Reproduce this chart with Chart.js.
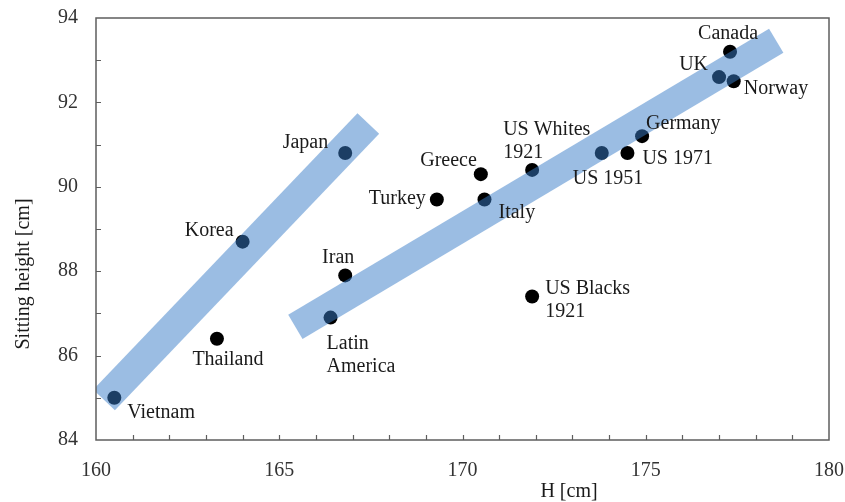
<!DOCTYPE html>
<html>
<head>
<meta charset="utf-8">
<script src="https://cdn.jsdelivr.net/npm/chart.js@4/dist/chart.umd.min.js"></script>
<style>
  html, body { margin: 0; padding: 0; background: #ffffff; }
  #wrap { width: 845px; height: 502px; }
</style>
</head>
<body>
<div id="wrap"><canvas id="c" width="845" height="502"></canvas></div>
<script>
// ---------- data ----------
const countries = ['Vietnam', 'Thailand', 'Korea', 'Japan', 'Iran', 'Latin\nAmerica', 'Turkey', 'Greece', 'Italy',
  'US Whites\n1921', 'US 1951', 'US 1971', 'Germany', 'UK', 'Norway', 'Canada', 'US Blacks\n1921'];
const statureH      = [160.5, 163.3, 164.0, 166.8, 166.8, 166.4, 169.3, 170.5, 170.6, 171.9, 173.8, 174.5, 174.9, 177.0, 177.4, 177.3, 171.9];
const sittingHeight = [85.0, 86.4, 88.7, 90.8, 87.9, 86.9, 89.7, 90.3, 89.7, 90.4, 90.8, 90.8, 91.2, 92.6, 92.5, 93.2, 87.4];

// trend bands (start / end of each band)
const asianBandX   = [160.22, 167.43];
const asianBandY   = [84.95, 91.50];
const westernBandX = [165.44, 178.56];
const westernBandY = [86.68, 93.46];

const xTickValues = [160, 165, 170, 175, 180];
const yTickValues = [84, 86, 88, 90, 92, 94];
const xTitle = 'H [cm]';
const yTitle = 'Sitting height [cm]';

// ---------- label placement (layout only) ----------
const labelPlacement = [
  { align: 'left',   dx: 13,  dy: 20 },  // Vietnam
  { align: 'center', dx: 11,  dy: 26 },  // Thailand
  { align: 'right',  dx: -9,  dy: -6 },  // Korea
  { align: 'right',  dx: -17, dy: -5 },  // Japan
  { align: 'center', dx: -7,  dy: -12 }, // Iran
  { align: 'left',   dx: -4,  dy: 31 },  // Latin America
  { align: 'right',  dx: -11, dy: 5 },   // Turkey
  { align: 'right',  dx: -4,  dy: -8 },  // Greece
  { align: 'left',   dx: 14,  dy: 19 },  // Italy
  { align: 'left',   dx: -29, dy: -35 }, // US Whites 1921
  { align: 'left',   dx: -29, dy: 31 },  // US 1951
  { align: 'left',   dx: 15,  dy: 11 },  // US 1971
  { align: 'left',   dx: 4,   dy: -7 },  // Germany
  { align: 'right',  dx: -11, dy: -7 },  // UK
  { align: 'left',   dx: 10,  dy: 13 },  // Norway
  { align: 'center', dx: -2,  dy: -13 }, // Canada
  { align: 'left',   dx: 13,  dy: -3 }   // US Blacks 1921
];

const SERIF = "'Liberation Serif', 'Times New Roman', serif";
const bandColor = 'rgba(56,124,200,0.5)';

const toXY = (xs, ys) => xs.map((v, i) => ({ x: v, y: ys[i] }));

const decor = {
  id: 'decor',
  afterDatasetsDraw(chart) {
    const { ctx, chartArea: a, scales: { x, y } } = chart;
    ctx.save();
    // frame
    ctx.strokeStyle = '#5e5e5e';
    ctx.lineWidth = 1.5;
    ctx.strokeRect(a.left, a.top, a.right - a.left, a.bottom - a.top);
    // inward minor ticks
    ctx.lineWidth = 1.2;
    ctx.beginPath();
    for (let v = x.min + 1; v < x.max; v++) {
      const px = Math.round(x.getPixelForValue(v)) + 0.5;
      ctx.moveTo(px, a.bottom);
      ctx.lineTo(px, a.bottom - 5);
    }
    for (let v = y.min + 1; v < y.max; v++) {
      const py = Math.round(y.getPixelForValue(v)) + 0.5;
      ctx.moveTo(a.left, py);
      ctx.lineTo(a.left + 5, py);
    }
    ctx.stroke();

    // point labels
    const meta = chart.getDatasetMeta(0);
    ctx.fillStyle = '#1a1a1a';
    ctx.font = '20px ' + SERIF;
    ctx.textBaseline = 'alphabetic';
    meta.data.forEach((pt, i) => {
      const p = labelPlacement[i];
      const lines = countries[i].split('\n');
      ctx.textAlign = p.align;
      lines.forEach((ln, k) => {
        ctx.fillText(ln, pt.x + p.dx, pt.y + p.dy + k * 23);
      });
    });
    ctx.restore();
  },
  afterDraw(chart) {
    const { ctx, chartArea: a } = chart;
    ctx.save();
    ctx.fillStyle = '#1a1a1a';
    ctx.font = '20px ' + SERIF;
    ctx.textAlign = 'center';
    ctx.textBaseline = 'middle';
    ctx.fillText(xTitle, a.left + 473, a.bottom + 52);
    ctx.translate(a.left - 72, a.top + 256);
    ctx.rotate(-Math.PI / 2);
    ctx.fillText(yTitle, 0, 0);
    ctx.restore();
  }
};

new Chart(document.getElementById('c'), {
  type: 'scatter',
  data: {
    datasets: [
      {
        label: 'Countries',
        data: toXY(statureH, sittingHeight),
        backgroundColor: '#000000',
        borderColor: '#000000',
        pointRadius: 7,
        pointHoverRadius: 7,
        borderWidth: 0,
        order: 2
      },
      {
        label: 'Asian trend',
        type: 'line',
        data: toXY(asianBandX, asianBandY),
        borderColor: bandColor,
        borderWidth: 30,
        borderCapStyle: 'butt',
        pointRadius: 0,
        fill: false,
        order: 1
      },
      {
        label: 'Western trend',
        type: 'line',
        data: toXY(westernBandX, westernBandY),
        borderColor: bandColor,
        borderWidth: 28,
        borderCapStyle: 'butt',
        pointRadius: 0,
        fill: false,
        order: 1
      }
    ]
  },
  options: {
    responsive: false,
    devicePixelRatio: 1,
    animation: false,
    layout: { padding: { top: 18, right: 16, left: 0, bottom: 0 } },
    plugins: { legend: { display: false }, tooltip: { enabled: false } },
    scales: {
      x: {
        type: 'linear',
        min: 160, max: 180,
        afterBuildTicks: s => { s.ticks = xTickValues.map(v => ({ value: v })); },
        afterFit: s => { s.height = 62; s.paddingLeft = 0; s.paddingRight = 0; },
        grid: { display: false, drawTicks: false },
        border: { display: false },
        ticks: { font: { family: SERIF, size: 20 }, color: '#333333', padding: 19, maxRotation: 0, autoSkip: false }
      },
      y: {
        type: 'linear',
        min: 84, max: 94,
        afterBuildTicks: s => { s.ticks = yTickValues.map(v => ({ value: v })); },
        afterFit: s => { s.width = 96; s.paddingTop = 0; s.paddingBottom = 0; },
        grid: { display: false, drawTicks: false },
        border: { display: false },
        ticks: { font: { family: SERIF, size: 20 }, color: '#333333', padding: 18, autoSkip: false }
      }
    }
  },
  plugins: [decor]
});
</script>
</body>
</html>
